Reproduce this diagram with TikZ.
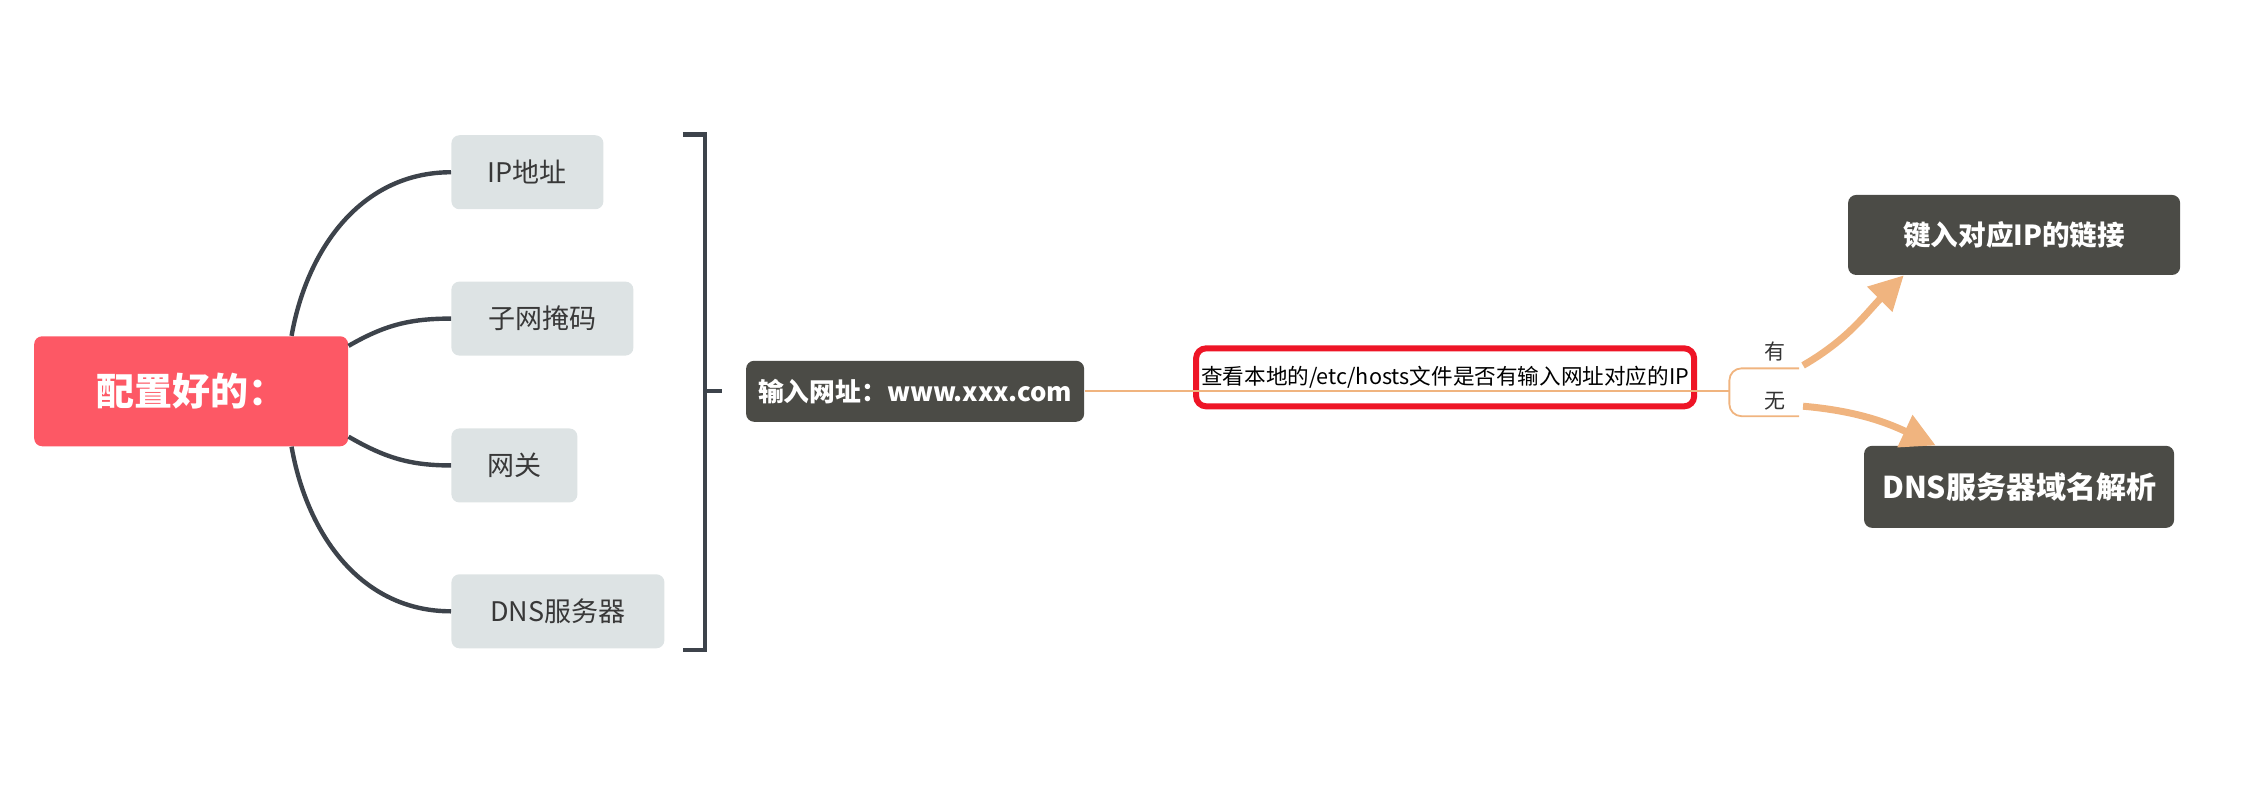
\documentclass[tikz,border=0pt]{standalone}
\usepackage{fontspec}
\setmainfont{Noto Sans CJK SC}
\usetikzlibrary{arrows.meta}
\definecolor{rootred}{HTML}{FD5865}
\definecolor{leafgray}{HTML}{DDE3E4}
\definecolor{darkbox}{HTML}{4B4B46}
\definecolor{branch}{HTML}{3D434B}
\definecolor{peach}{HTML}{F0B47F}
\definecolor{markred}{HTML}{EE1526}
\begin{document}
\begin{tikzpicture}[x=0.4978pt, y=-0.4978pt,
  rootbox/.style={fill=rootred, rounded corners=4pt, text=white, minimum width=157pt, minimum height=55pt, font=\bfseries\fontsize{19}{22}\selectfont},
  leaf/.style={fill=leafgray, rounded corners=4pt, anchor=west, minimum height=37pt, text=black!78, font=\fontsize{13.5}{16}\selectfont},
  dark/.style={fill=darkbox, rounded corners=4pt, text=white, font=\bfseries\fontsize{14}{17}\selectfont},
  hostsbox/.style={draw=markred, line width=3pt, fill=white, rounded corners=5pt, minimum width=249pt, minimum height=29pt, inner sep=2pt, font=\fontsize{10.8}{13}\selectfont},
  branchline/.style={branch, line width=2.2pt},
  fork/.style={peach, line width=0.9pt},
  yesno/.style={peach, line width=3.5pt, -{Triangle[length=17pt,width=17pt]}},
  yesnolabel/.style={text=black!80, font=\fontsize{10.5}{12}\selectfont}]
\useasboundingbox (0,0) rectangle (2274,793.5);
% left part
\node[rootbox] (root) at (192,393) {配置好的：};
\node[leaf, minimum width=76pt] (ip) at (453,173) {IP地址};
\node[leaf, minimum width=91pt] (mask) at (453,320) {子网掩码};
\node[leaf, minimum width=63pt] (gate) at (453,467.5) {网关};
\node[leaf, minimum width=106.5pt] (dns) at (453,614) {DNS服务器};
\draw[branchline] ([xshift=-28.5pt]root.north east) to[out=80,in=180] (ip.west);
\draw[branchline] ([yshift=-5pt]root.north east) to[out=30,in=180] (mask.west);
\draw[branchline] ([yshift=5pt]root.south east) to[out=-30,in=180] (gate.west);
\draw[branchline] ([xshift=-28.5pt]root.south east) to[out=-80,in=180] (dns.west);
\draw[branchline] (686,135) -- (708,135) -- (708,653) -- (686,653);
\draw[branchline] (708,393) -- (725,393);
% middle part
\node[dark, anchor=west, minimum width=169pt, minimum height=30.5pt, inner sep=3pt, font=\bfseries\fontsize{12.9}{15}\selectfont] (url) at (749,393) {输入网址：www.xxx.com};
\node[hostsbox] (hosts) at (1451.5,379) {查看本地的/etc/hosts文件是否有输入网址对应的IP};
\coordinate (forkmid) at (1737,393);
\draw[fork] (url.east) -- (forkmid);
\draw[fork, rounded corners=6pt] (1807,370) -- (1737,370) -- (1737,418) -- (1807,418);
\node[yesnolabel] (has) at (1783,353) {有};
\node[yesnolabel] (none) at (1783,403) {无};
% right part
\node[dark, minimum width=166pt, minimum height=40pt, font=\bfseries\fontsize{13.8}{17}\selectfont] (link) at (2023,236) {键入对应IP的链接};
\node[dark, minimum width=155pt, minimum height=41pt, font=\bfseries\fontsize{15}{18}\selectfont] (resolve) at (2028,489) {DNS服务器域名解析};
\coordinate (yesfrom) at (1811,367);
\coordinate (nofrom) at (1811,408);
\draw[yesno] (yesfrom) to[out=30,in=225] ([xshift=28pt]link.south west);
\draw[yesno] (nofrom) to[out=-5,in=155] ([xshift=36pt]resolve.north west);
\end{tikzpicture}
\end{document}
